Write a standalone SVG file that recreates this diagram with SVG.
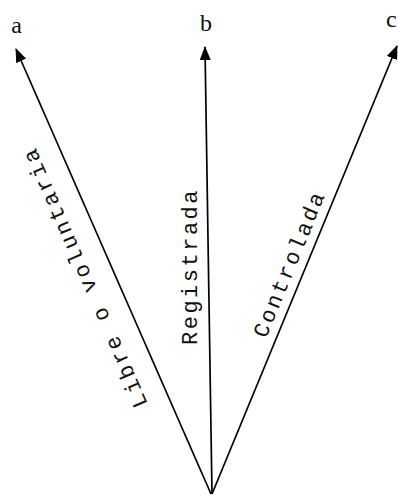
<svg xmlns="http://www.w3.org/2000/svg" width="398" height="496" viewBox="0 0 398 496">
<style>
.lbl{font-family:"Liberation Serif","Times New Roman",serif;font-size:24px;fill:#111}
.cap{font-family:"Liberation Mono","Courier New",monospace;font-size:22px;letter-spacing:2.5px;fill:#111}
.ln{stroke:#000;stroke-width:1.7;fill:none;marker-end:url(#ah)}
</style>
<defs>
<marker id="ah" viewBox="0 0 14 11" refX="13" refY="5.5" markerWidth="14" markerHeight="11" markerUnits="userSpaceOnUse" orient="auto">
<path d="M0,0 L14,5.5 L0,11 z" fill="#000"/>
</marker>
</defs>
<rect width="398" height="496" fill="#fff"/>
<g id="connectors">
<line class="ln" x1="211" y1="494" x2="16" y2="49"/>
<line class="ln" x1="212" y1="494" x2="205" y2="47"/>
<line class="ln" x1="212" y1="494" x2="397" y2="46"/>
</g>
<g id="node-a"><text class="lbl" x="16.5" y="33" text-anchor="middle">a</text></g>
<g id="node-b"><text class="lbl" x="206" y="31" text-anchor="middle">b</text></g>
<g id="node-c"><text class="lbl" x="386" y="27">c</text></g>
<g id="label-libre"><text class="cap" transform="translate(148,404) rotate(-113.7)">Libre o voluntaria</text></g>
<g id="label-registrada"><text class="cap" transform="translate(197,345) rotate(-90)">Registrada</text></g>
<g id="label-controlada"><text class="cap" transform="translate(266,339) rotate(-67.6)">Controlada</text></g>
</svg>
